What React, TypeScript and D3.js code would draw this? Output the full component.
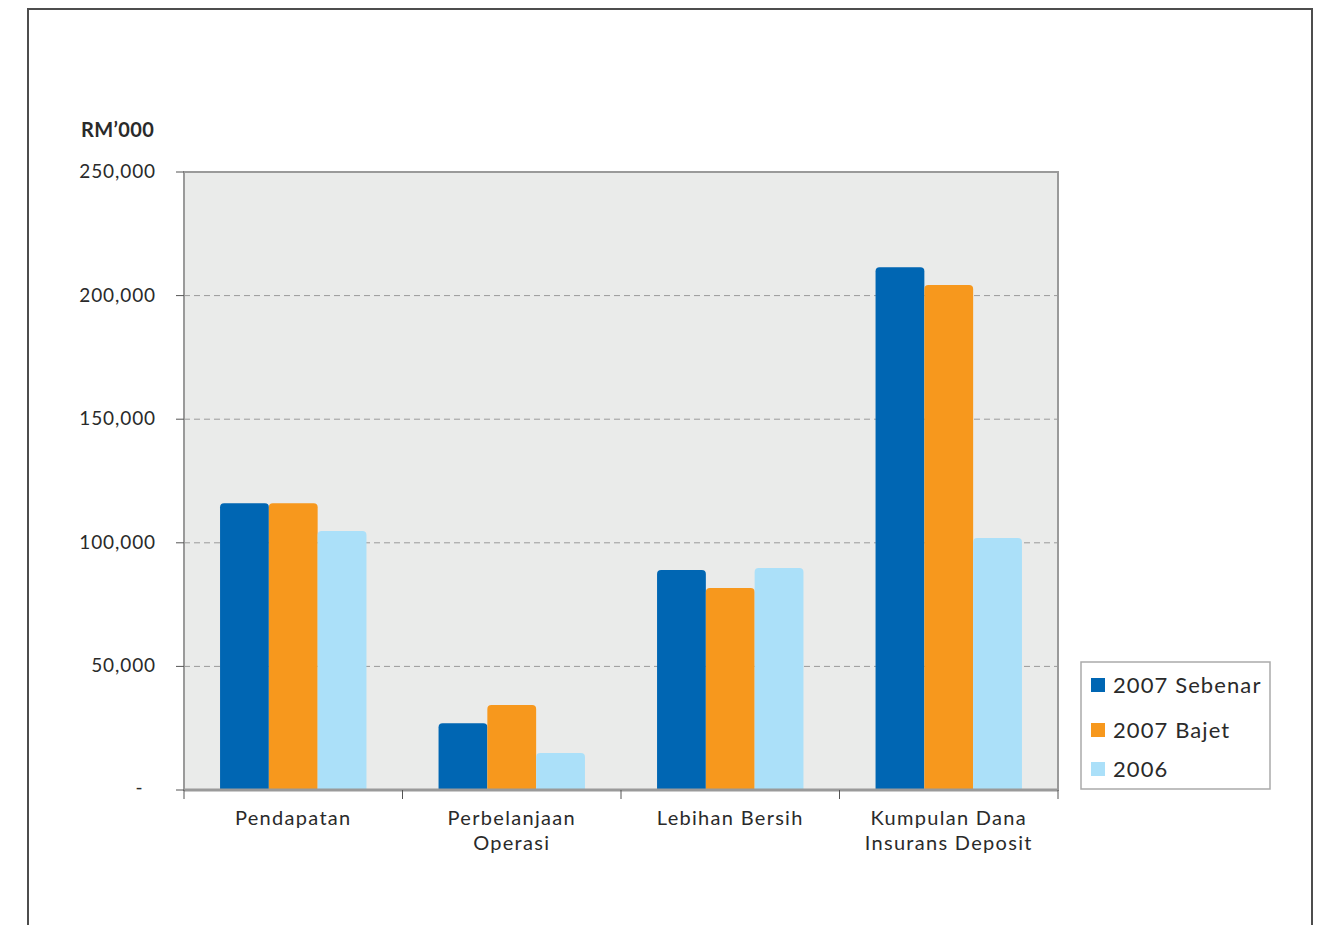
import React from "react";
import * as d3 from "d3";

const categories = [["Pendapatan"], ["Perbelanjaan", "Operasi"], ["Lebihan Bersih"], ["Kumpulan Dana", "Insurans Deposit"]];
const seriesNames = ["2007 Sebenar", "2007 Bajet", "2006"];
const sebenar2007 = [116000, 27000, 89000, 211500];
const bajet2007 = [116000, 34400, 81700, 204300];
const tahun2006 = [104800, 15000, 89800, 101900];
const yTicks = [0, 50000, 100000, 150000, 200000, 250000];
const colors = ["#0066b3", "#f7981d", "#abe0f9"];

const W = 1325;
const H = 925;
const left = 184, right = 1058, top = 172, bottom = 790;
const font = "Lato, 'DejaVu Sans', sans-serif";
const ink = "#2a2a2a";

function topRounded(x: number, y: number, w: number, h: number, r: number) {
  const rr = Math.min(r, h, w / 2);
  return `M${x},${y + h}V${y + rr}Q${x},${y} ${x + rr},${y}H${x + w - rr}Q${x + w},${y} ${x + w},${y + rr}V${y + h}Z`;
}

export default function App() {
  const series = [sebenar2007, bajet2007, tahun2006];
  const keys = categories.map((c) => c.join(" "));
  const x0 = d3.scaleBand<string>().domain(keys).range([left, right]).paddingInner(0.33).paddingOuter(0.165);
  const x1 = d3.scaleBand<number>().domain([0, 1, 2]).range([0, x0.bandwidth()]).padding(0);
  const y = d3.scaleLinear().domain([0, 250000]).range([bottom, top]);
  const step = x0.step();
  const fmt = d3.format(",");
  const bounds = keys.map((k) => (x0(k) as number) - step * 0.165).concat([right]);

  const legendRows = [685, 730, 769];

  return (
    <svg width={W} height={H} style={{ display: "block", position: "absolute", left: 0, top: 0 }}>
      <rect x={0} y={0} width={W} height={H} fill="#ffffff" />
      {/* page frame, open at the bottom */}
      <path d={`M28,${H}V9H1312V${H}`} fill="none" stroke="#4d4d4d" strokeWidth={2} />

      <text x={81} y={137} fontFamily={font} fontWeight={700} fontSize={20} letterSpacing={0.4} fill={ink}>RM’000</text>

      {/* plot area */}
      <rect x={left} y={top} width={right - left} height={bottom - top} fill="#eaebea" />
      {yTicks.filter((t) => t > 0 && t < 250000).map((t) => (
        <line key={t} x1={left} x2={right} y1={y(t)} y2={y(t)} stroke="#9a9a9a" strokeWidth={1} strokeDasharray="6,4" />
      ))}

      {series.map((vals, si) =>
        vals.map((v, ci) => {
          const bx = (x0(keys[ci]) as number) + (x1(si) as number);
          const by = y(v);
          return <path key={`${si}-${ci}`} d={topRounded(bx, by, x1.bandwidth(), bottom - by, 4)} fill={colors[si]} />;
        })
      )}

      <rect x={left} y={top} width={right - left} height={bottom - top} fill="none" stroke="#9a9a9a" strokeWidth={2} />
      <line x1={left} x2={right} y1={bottom} y2={bottom} stroke="#9a9a9a" strokeWidth={3} />

      {/* y axis */}
      {yTicks.map((t) => (
        <g key={t}>
          <line x1={176} x2={left} y1={y(t)} y2={y(t)} stroke="#555" strokeWidth={1} />
          {t === 0 ? (
            <text x={139} y={y(t) + 4} textAnchor="middle" fontFamily={font} fontSize={19} fill={ink}>-</text>
          ) : (
            <text x={156} y={y(t) + 6} textAnchor="end" fontFamily={font} fontSize={19} letterSpacing={0.9} fill={ink}>
              {fmt(t)}
            </text>
          )}
        </g>
      ))}

      {/* x axis */}
      {bounds.map((b, i) => (
        <line key={i} x1={b} x2={b} y1={bottom} y2={bottom + 9} stroke="#555" strokeWidth={1} />
      ))}
      {categories.map((lines, ci) => {
        const cx = (x0(keys[ci]) as number) + x0.bandwidth() / 2;
        return (
          <text key={ci} textAnchor="middle" fontFamily={font} fontSize={20} letterSpacing={1.3} fill={ink}>
            {lines.map((ln, li) => (
              <tspan key={li} x={cx} y={825 + li * 25}>{ln}</tspan>
            ))}
          </text>
        );
      })}

      {/* legend */}
      <rect x={1081} y={662} width={189} height={127} fill="#fff" stroke="#aaa" strokeWidth={1.5} />
      {seriesNames.map((n, i) => (
        <g key={n}>
          <rect x={1091} y={legendRows[i] - 7} width={14} height={14} fill={colors[i]} />
          <text x={1113} y={legendRows[i] + 8} fontFamily={font} fontSize={22} letterSpacing={1.1} fill={ink}>{n}</text>
        </g>
      ))}
    </svg>
  );
}
